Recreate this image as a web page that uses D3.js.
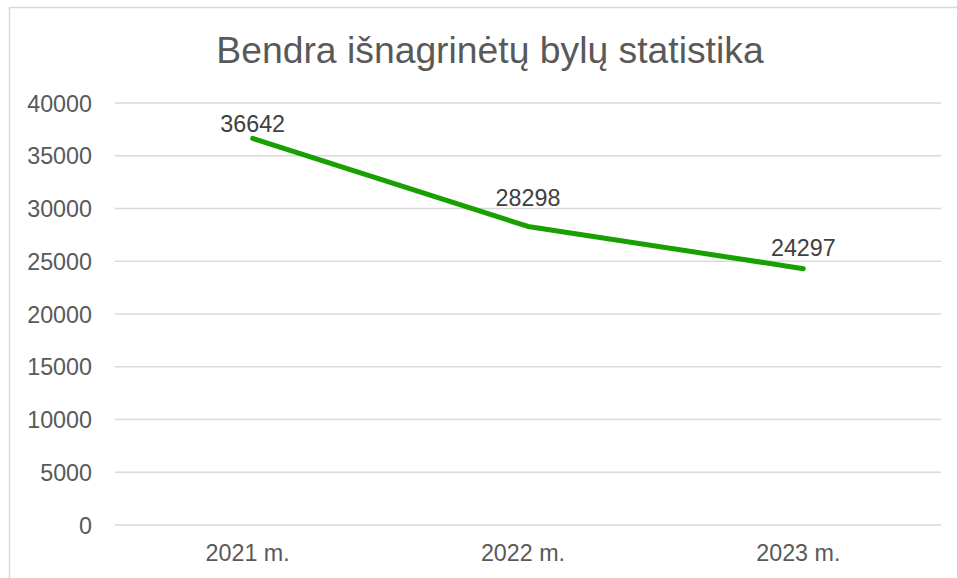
<!DOCTYPE html>
<html>
<head>
<meta charset="utf-8">
<script src="https://cdn.jsdelivr.net/npm/d3@7"></script>
<style>
  html, body { margin: 0; padding: 0; background: #fff; }
  svg { display: block; font-family: "Liberation Sans", Arial, sans-serif; }
</style>
</head>
<body>
<svg id="chart" width="957" height="578"></svg>
<script>
const categories = ["2021 m.", "2022 m.", "2023 m."];
const values = [36642, 28298, 24297];
const yTicks = [0, 5000, 10000, 15000, 20000, 25000, 30000, 35000, 40000];
const title = "Bendra išnagrinėtų bylų statistika";
// vertical nudge of each data label above its point (px)
const labelLift = [6, 20, 13];

const svg = d3.select("#chart");
const W = 957, H = 578;
const margin = { left: 115, right: 16, top: 103, bottom: 53 };
const textColor = "#595959";
const gridColor = "#d9d9d9";
const lineColor = "#17a000";

// chart border
svg.append("rect")
  .attr("x", 9.5).attr("y", 7.5)
  .attr("width", 960).attr("height", 600)
  .attr("fill", "#fff")
  .attr("stroke", gridColor).attr("stroke-width", 1.5);

svg.append("text")
  .attr("x", 490).attr("y", 63)
  .attr("text-anchor", "middle")
  .attr("fill", textColor)
  .style("font-size", "37.3px")
  .text(title);

const x = d3.scaleBand()
  .domain(categories)
  .range([margin.left, W - margin.right])
  .padding(0);

const y = d3.scaleLinear()
  .domain([0, 40000])
  .range([H - margin.bottom, margin.top]);

// gridlines
svg.append("g")
  .selectAll("line")
  .data(yTicks)
  .join("line")
  .attr("x1", margin.left).attr("x2", W - margin.right)
  .attr("y1", d => y(d)).attr("y2", d => y(d))
  .attr("stroke", gridColor).attr("stroke-width", 1.5);

// y axis labels
const yAxis = d3.axisLeft(y).tickValues(yTicks).tickSize(0).tickPadding(0)
  .tickFormat(d3.format("d"));
const gy = svg.append("g")
  .attr("transform", `translate(92,0)`)
  .call(yAxis);
gy.select(".domain").remove();
gy.selectAll("text")
  .attr("fill", textColor)
  .attr("x", 0)
  .attr("dy", "0.35em")
  .style("font-size", "23.3px")
  .style("font-family", "'Liberation Sans', Arial, sans-serif");

// x axis labels
const xAxis = d3.axisBottom(x).tickSize(0).tickPadding(0);
const gx = svg.append("g")
  .attr("transform", `translate(-5,${H - margin.bottom})`)
  .call(xAxis);
gx.select(".domain").remove();
gx.selectAll("text")
  .attr("fill", textColor)
  .attr("y", 36)
  .attr("dy", 0)
  .style("font-size", "23.3px")
  .style("font-family", "'Liberation Sans', Arial, sans-serif");

const cx = d => x(d) + x.bandwidth() / 2;
const pts = categories.map((c, i) => [cx(c), y(values[i])]);

svg.append("path")
  .datum(pts)
  .attr("d", d3.line())
  .attr("fill", "none")
  .attr("stroke", lineColor)
  .attr("stroke-width", 5)
  .attr("stroke-linecap", "round")
  .attr("stroke-linejoin", "round");

svg.append("g")
  .selectAll("text")
  .data(values)
  .join("text")
  .attr("x", (d, i) => cx(categories[i]))
  .attr("y", (d, i) => y(d) - labelLift[i])
  .attr("text-anchor", "middle")
  .attr("fill", "#404040")
  .style("font-size", "23.3px")
  .text(d => d);
</script>
</body>
</html>
